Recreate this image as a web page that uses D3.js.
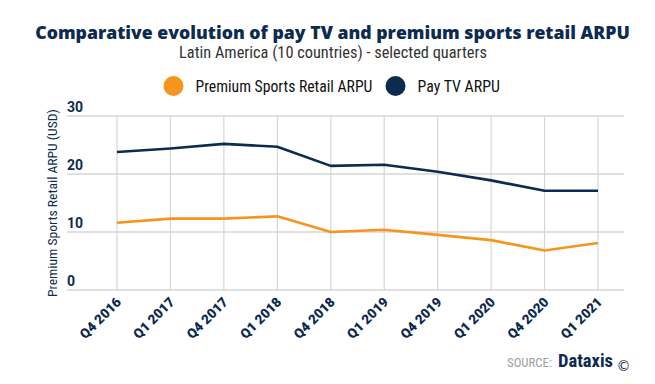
<!DOCTYPE html>
<html><head><meta charset="utf-8">
<script src="https://cdn.jsdelivr.net/npm/d3@7"></script>
<style>body{margin:0;background:#fff}svg{display:block}</style>
</head><body><svg id="c" width="655" height="384"></svg>
<script>
const categories = ["Q4 2016","Q1 2017","Q4 2017","Q1 2018","Q4 2018","Q1 2019","Q4 2019","Q1 2020","Q4 2020","Q1 2021"];
const sportsARPU = [11.6,12.3,12.3,12.7,10.0,10.4,9.5,8.6,6.8,8.1];
const payTvARPU = [23.8,24.4,25.2,24.7,21.4,21.6,20.4,18.9,17.1,17.1];
const yTicks = [0,10,20,30];
const seriesNames = ["Premium Sports Retail ARPU","Pay TV ARPU"];
const colors = ["#f7941d","#0d2b4e"];
const navy = "#0d2b4e";

const svg = d3.select("#c");
const gridL = 67, gridR = 624;
const x = d3.scalePoint().domain(categories).range([117, 598]);
const y = d3.scaleLinear().domain([0,30]).range([290, 116]);
const narrow = "'Liberation Sans Narrow','Roboto Condensed','Arial Narrow',sans-serif";

// fit a text element to a target width by adjusting font-size
function fit(sel, w){
  const n = sel.node(); const fs = parseFloat(sel.attr("font-size"));
  const cur = n.getComputedTextLength();
  if (cur > 0) sel.attr("font-size", (fs * w / cur).toFixed(2));
  return sel;
}

// title
fit(svg.append("text").attr("x",332.5).attr("y",39).attr("text-anchor","middle")
  .attr("font-family","'Open Sans', sans-serif").attr("font-weight",800).attr("font-size",19)
  .attr("fill",navy).text("Comparative evolution of pay TV and premium sports retail ARPU"), 595);
fit(svg.append("text").attr("x",333).attr("y",58).attr("text-anchor","middle")
  .attr("font-family",narrow).attr("font-size",16).attr("fill","#333")
  .text("Latin America (10 countries) - selected quarters"), 308);

// legend
const leg = [{x:173.5,tx:195.5,w:177},{x:395.5,tx:417.5,w:82.5}];
seriesNames.forEach((n,i)=>{
  svg.append("circle").attr("cx",leg[i].x).attr("cy",86).attr("r",10).attr("fill",colors[i]);
  fit(svg.append("text").attr("x",leg[i].tx).attr("y",91.5).attr("font-family",narrow)
    .attr("font-size",15.5).attr("fill","#111").text(n), leg[i].w);
});

// grid
const g = svg.append("g");
g.selectAll(".hg").data(yTicks).join("line")
  .attr("x1",gridL).attr("x2",gridR).attr("y1",d=>y(d)).attr("y2",d=>y(d))
  .attr("stroke","#d6d6d6").attr("stroke-width",1.6);
g.selectAll(".vg").data(categories).join("line")
  .attr("x1",d=>x(d)).attr("x2",d=>x(d)).attr("y1",y(30)).attr("y2",y(0))
  .attr("stroke","#d6d6d6").attr("stroke-width",1.2);

// y labels
g.selectAll(".yl").data(yTicks).join("text")
  .attr("x",67).attr("y",d=>y(d)-4).attr("font-family","Roboto, sans-serif")
  .attr("font-weight",700).attr("font-size",14).attr("fill",navy).text(d=>d);

// y title
fit(svg.append("text").attr("transform","translate(57,203) rotate(-90)").attr("text-anchor","middle")
  .attr("font-family",narrow).attr("font-size",13).attr("fill",navy)
  .text("Premium Sports Retail ARPU (USD)"), 188);

// x labels
g.selectAll(".xl").data(categories).join("text")
  .attr("transform",d=>`translate(${x(d)+5},${y(0)+13}) rotate(-45)`)
  .attr("text-anchor","end").attr("font-family","Roboto, sans-serif").attr("font-weight",900)
  .attr("font-size",13.5).attr("fill",navy).text(d=>d);

// lines
const line = d3.line().x((d,i)=>x(categories[i])).y(d=>y(d));
[sportsARPU, payTvARPU].forEach((s,i)=>{
  svg.append("path").datum(s).attr("d",line).attr("fill","none")
    .attr("stroke",colors[i]).attr("stroke-width",2.6).attr("stroke-linejoin","round");
});

// source
fit(svg.append("text").attr("x",507).attr("y",366.5)
  .attr("font-family",narrow).attr("font-size",12.5).attr("fill","#a0a0a0").text("SOURCE:"), 45);
fit(svg.append("text").attr("x",558).attr("y",366.5).attr("font-family",narrow)
  .attr("font-weight",700).attr("font-size",19).attr("fill",navy).text("Dataxis"), 55);
svg.append("text").attr("x",616.5).attr("y",371).attr("font-family","'DejaVu Sans',sans-serif")
  .attr("font-size",14).attr("fill",navy).text("©");
</script></body></html>
